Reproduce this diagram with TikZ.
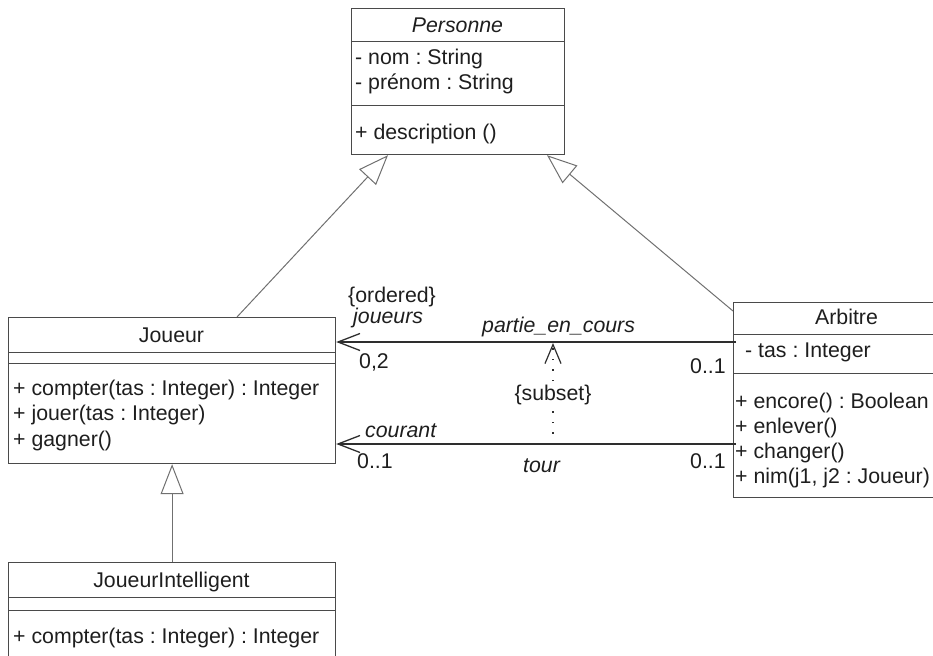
\documentclass[tikz,border=0pt]{standalone}
\usepackage{fontspec}
\setmainfont{Liberation Sans}
\usetikzlibrary{arrows.meta,calc}
\definecolor{boxc}{HTML}{4A4A4A}
\definecolor{txtc}{HTML}{1E1E1E}
\definecolor{genc}{HTML}{707070}
\definecolor{assc}{HTML}{2E2E2E}
\frenchspacing
\begin{document}
\begin{tikzpicture}[x=1pt,y=-1pt,
  box/.style={draw=boxc,line width=1.2pt,inner sep=0pt,anchor=north west},
  sep/.style={draw=boxc,line width=1pt},
  txt/.style={inner sep=0pt,anchor=base west,font=\fontsize{21.3}{25}\selectfont\frenchspacing,text=txtc},
  ctxt/.style={txt,anchor=base},
  itxt/.style={txt,font=\fontsize{21.3}{25}\selectfont\frenchspacing\itshape},
  gen/.style={draw=genc,line width=1pt,-{Triangle[open,length=30pt,width=23pt,fill=white]}},
  assoc/.style={draw=assc,line width=1.5pt,-{Straight Barb[length=22pt,width=17pt,line width=1.3pt]}},
  dep/.style={draw=assc,line width=1.3pt,dash pattern=on 1.5pt off 9pt,-{Straight Barb[length=19pt,width=16pt,line width=1.2pt]}}
]
\useasboundingbox (0,0) rectangle (933,655);

% Personne
\node[box,minimum width=213pt,minimum height=146pt] (pers) at (351,8) {};
\draw[sep] ($(pers.north west)+(0,34)$) -- ($(pers.north east)+(0,34)$);
\draw[sep] ($(pers.north west)+(0,98)$) -- ($(pers.north east)+(0,98)$);
\node[ctxt,font=\fontsize{21.3}{25}\selectfont\itshape] (persT) at (457.5,33) {Personne};
\node[txt] (pers1) at (355,65) {- nom : String};
\node[txt] (pers2) at (355,90) {- prénom : String};
\node[txt] (pers3) at (355,140) {+ description ()};

% Joueur
\node[box,minimum width=327pt,minimum height=146pt] (jou) at (8,317) {};
\draw[sep] ($(jou.north west)+(0,35)$) -- ($(jou.north east)+(0,35)$);
\draw[sep] ($(jou.north west)+(0,46)$) -- ($(jou.north east)+(0,46)$);
\node[ctxt] (jouT) at (171.5,342) {Joueur};
\node[txt] (jou1) at (13,395) {+ compter(tas : Integer) : Integer};
\node[txt] (jou2) at (13,420) {+ jouer(tas : Integer)};
\node[txt] (jou3) at (13,446) {+ gagner()};

% Arbitre
\node[box,minimum width=227pt,minimum height=195pt] (arb) at (733,302) {};
\draw[sep] ($(arb.north west)+(0,32)$) -- ($(arb.north east)+(0,32)$);
\draw[sep] ($(arb.north west)+(0,71)$) -- ($(arb.north east)+(0,71)$);
\node[ctxt] (arbT) at (846.5,324) {Arbitre};
\node[txt] (arb0) at (745,357) {- tas : Integer};
\node[txt] (arb1) at (735,408) {+ encore() : Boolean};
\node[txt] (arb2) at (735,433) {+ enlever()};
\node[txt] (arb3) at (735,458) {+ changer()};
\node[txt] (arb4) at (735,483) {+ nim(j1, j2 : Joueur)};

% JoueurIntelligent
\node[box,minimum width=327pt,minimum height=110pt] (ji) at (8,562) {};
\draw[sep] ($(ji.north west)+(0,35)$) -- ($(ji.north east)+(0,35)$);
\draw[sep] ($(ji.north west)+(0,48)$) -- ($(ji.north east)+(0,48)$);
\node[ctxt] (jiT) at (171.5,587) {JoueurIntelligent};
\node[txt] (ji1) at (13,643) {+ compter(tas : Integer) : Integer};

% generalizations
\coordinate (g1s) at ($(jou.north west)+(229,0)$);
\coordinate (g1t) at ($(pers.south west)+(37,0)$);
\coordinate (g2s) at ($(arb.north west)+(0,9)$);
\coordinate (g2t) at ($(pers.south west)+(196,0)$);
\draw[gen] (g1s) -- (g1t);
\draw[gen] (g2s) -- (g2t);
\draw[gen] (ji.north) -- (jou.south);

% associations
\coordinate (a1r) at ($(arb.north west)+(3,40)$);
\coordinate (a1l) at (jou.east |- a1r);
\coordinate (a2r) at ($(arb.north west)+(3,142)$);
\coordinate (a2l) at (jou.east |- a2r);
\draw[assoc] (a1r) -- (a1l);
\draw[assoc] (a2r) -- (a2l);

% dependency {subset}
\coordinate (d1) at (553,444);
\coordinate (d2) at (553,343);
\draw[dep] (d1) -- (d2);
\node[ctxt,fill=white,inner sep=1pt] (subset) at (553,400) {\{subset\}};

% labels
\node[txt] (ord) at (348,302) {\{ordered\}};
\node[itxt] (jrs) at (353,323) {joueurs};
\node[itxt] (pec) at (482,332) {partie\_en\_cours};
\node[txt] (m02) at (359,368) {0,2};
\node[txt] (m01a) at (690,373) {0..1};
\node[itxt] (cour) at (365,437) {courant};
\node[txt] (m01b) at (357,468) {0..1};
\node[itxt] (tour) at (523,472) {tour};
\node[txt] (m01c) at (690,468) {0..1};
\end{tikzpicture}
\end{document}
